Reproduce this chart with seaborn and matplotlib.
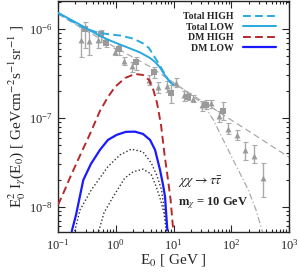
import matplotlib
matplotlib.use("Agg")
from matplotlib import pyplot as plt
from matplotlib.ticker import LogLocator, NullFormatter
import pandas as pd
import seaborn as sns

sns.set_style("ticks")
plt.rcParams["font.family"] = ["Liberation Serif", "DejaVu Serif"]
plt.rcParams["mathtext.fontset"] = "stix"

# measured points (triangles)
tri_e = [0.247, 0.344, 0.49, 0.96, 1.37, 1.91, 3.7, 5.4, 7.8, 11, 15.2, 22, 30.8, 44, 62, 89, 124, 173, 248, 351]
tri_f = [7.6e-7, 7.4e-7, 7.6e-7, 5.5e-7, 4.4e-7, 3.8e-7, 2.65e-7, 2.2e-7, 2.27e-7, 2.45e-7,
         1.8e-7, 1.65e-7, 1.38e-7, 1.47e-7, 1.04e-7, 7.55e-8, 6.5e-8, 4.3e-8, 3.77e-8, 2.1e-8]
tri_hi = [1.05e-6, 9.7e-7, 8.9e-7, 6.1e-7, 4.9e-7, 4.3e-7, 3.0e-7, 2.55e-7, 2.6e-7, 2.8e-7,
          2.0e-7, 1.8e-7, 1.55e-7, 1.6e-7, 1.2e-7, 8.7e-8, 7.4e-8, 5.4e-8, 5.0e-8, 3.1e-8]
tri_lo = [4.8e-7, 5.1e-7, 6.1e-7, 5.1e-7, 3.9e-7, 3.3e-7, 2.35e-7, 1.9e-7, 1.95e-7, 2.2e-7,
          1.55e-7, 1.5e-7, 1.2e-7, 1.3e-7, 9.1e-8, 6.6e-8, 5.7e-8, 3.4e-8, 3.1e-8, 1.3e-8]

# measured points (squares)
sq_e = [0.297, 0.548, 0.686, 1.12, 2.27, 4.6, 9.2, 18, 36.5, 73]
sq_f = [1.0e-6, 8.7e-7, 7.0e-7, 5.9e-7, 4.27e-7, 3.3e-7, 1.9e-7, 1.72e-7, 1.4e-7, 1.19e-7]
sq_hi = [1.21e-6, 9.7e-7, 7.65e-7, 6.6e-7, 4.9e-7, 3.77e-7, 2.35e-7, 1.9e-7, 1.6e-7, 1.52e-7]
sq_lo = [6.1e-7, 7.2e-7, 6.3e-7, 5.1e-7, 3.45e-7, 2.8e-7, 1.47e-7, 1.6e-7, 1.25e-7, 9.5e-8]

# background curves (gray)
bkg_e = [0.1, 0.24, 0.533, 1.18, 3.92, 13.9, 63.8, 211, 961, 1000]
bkg_f = [1.48e-6, 1.05e-6, 7.8e-7, 5.8e-7, 3.77e-7, 2.16e-7, 1.14e-7, 6.95e-8, 3.67e-8, 3.6e-8]
cut_e = [9.8, 13.9, 19.3, 28.8, 35, 48.9, 63.8, 108, 197, 268, 348]
cut_f = [2.43e-7, 2.16e-7, 1.84e-7, 1.52e-7, 1.34e-7, 9.5e-8, 6.7e-8, 3.37e-8, 1.55e-8, 9.2e-9, 5.2e-9]

# totals
tot_high_e = [0.1, 0.161, 0.24, 0.33, 0.49, 0.794, 1.18, 2.01, 3.0, 3.77, 4.47, 5.28, 6.2, 7.13, 8.1, 9.8]
tot_high_f = [1.52e-6, 1.26e-6, 1.09e-6, 9.9e-7, 9.1e-7, 8.7e-7, 8.45e-7, 7.8e-7, 6.87e-7, 6.1e-7,
              5.1e-7, 4.3e-7, 3.6e-7, 3.08e-7, 2.67e-7, 2.35e-7]
tot_low_e = [0.1, 0.161, 0.294, 0.533, 0.794, 1.18, 1.77, 2.63, 3.92, 4.79, 5.84, 7.13, 8.69, 9.9]
tot_low_f = [1.52e-6, 1.29e-6, 1.04e-6, 8.34e-7, 7.43e-7, 6.7e-7, 6.04e-7, 5.45e-7, 4.72e-7, 4.26e-7,
             3.69e-7, 3.0e-7, 2.54e-7, 2.35e-7]

# dark matter
dm_high_e = [0.1, 0.127, 0.161, 0.222, 0.358, 0.533, 0.734, 0.971, 1.45, 2.15, 2.96, 3.77, 4.47,
             5.18, 6.08, 7.0, 8.04, 8.9, 9.8]
dm_high_f = [1.05e-8, 1.48e-8, 2.12e-8, 3.37e-8, 6.6e-8, 1.2e-7, 1.72e-7, 2.23e-7, 2.81e-7, 3.12e-7,
             3.04e-7, 2.67e-7, 2.07e-7, 1.48e-7, 8.3e-8, 3.84e-8, 2.0e-8, 1.2e-8, 5.8e-9]
dm_low_e = [0.173, 0.205, 0.274, 0.372, 0.533, 0.734, 1.04, 1.5, 2.15, 2.96, 3.92, 4.79, 5.84,
            6.58, 7.13, 7.81]
dm_low_f = [5.3e-9, 8.1e-9, 2.0e-8, 3.04e-8, 4.37e-8, 5.66e-8, 6.45e-8, 6.97e-8, 7.0e-8, 6.6e-8,
            5.66e-8, 4.37e-8, 2.6e-8, 1.77e-8, 1.3e-8, 5.5e-9]
dot1_e = [0.195, 0.24, 0.378, 0.533, 0.734, 1.19, 1.86, 2.96, 4.13, 5.18, 6.2, 7.21, 7.71]
dot1_f = [5.3e-9, 9.2e-9, 1.55e-8, 2.12e-8, 2.84e-8, 3.84e-8, 4.45e-8, 4.15e-8, 3.1e-8, 2.23e-8,
          1.55e-8, 7.8e-9, 5.3e-9]
dot2_e = [0.507, 0.627, 0.84, 1.43, 1.99, 2.96, 4.07, 5.0, 5.96, 6.84, 7.5]
dot2_f = [5.3e-9, 8.6e-9, 1.2e-8, 2.1e-8, 2.47e-8, 2.65e-8, 2.35e-8, 1.69e-8, 1.2e-8, 8.5e-9, 5.3e-9]

fig = plt.figure(figsize=(2.99, 2.72), dpi=100)
ax = fig.add_axes([0.194, 0.147, 0.7726, 0.8475])

gray = "#9a9a9a"
for e, f, lo, hi, mk in [(tri_e, tri_f, tri_lo, tri_hi, "^"), (sq_e, sq_f, sq_lo, sq_hi, "s")]:
    df = pd.DataFrame({"e": e, "f": f, "lo": lo, "hi": hi})
    ax.errorbar(df["e"], df["f"], yerr=[df["f"] - df["lo"], df["hi"] - df["f"]],
                fmt="none", ecolor="#aaaaaa", elinewidth=1.0, capsize=1.8, capthick=0.8, zorder=2)
    sns.scatterplot(data=df, x="e", y="f", marker=mk, s=18, color=gray, edgecolor=gray,
                    linewidth=0, ax=ax, zorder=3)

sns.lineplot(x=bkg_e, y=bkg_f, color="#aaaaaa", lw=0.9, linestyle=(0, (5, 3)), ax=ax, zorder=1)
sns.lineplot(x=cut_e, y=cut_f, color="#aaaaaa", lw=0.9, linestyle=(0, (5, 2, 1, 2)), ax=ax, zorder=1)
sns.lineplot(x=dot1_e, y=dot1_f, color="#333333", lw=1.0, linestyle=(0, (1, 1.6)), ax=ax)
sns.lineplot(x=dot2_e, y=dot2_f, color="#333333", lw=1.0, linestyle=(0, (1, 1.6)), ax=ax)

sns.lineplot(x=tot_high_e, y=tot_high_f, color="#2aa8e0", lw=1.4, linestyle=(0, (4, 2.2)),
             label="Total HIGH", ax=ax, zorder=4)
sns.lineplot(x=tot_low_e, y=tot_low_f, color="#2aa8e0", lw=1.4, label="Total LOW", ax=ax, zorder=4)
sns.lineplot(x=dm_high_e, y=dm_high_f, color="#b52a2a", lw=1.4, linestyle=(0, (4, 2.2)),
             label="DM HIGH", ax=ax, zorder=4)
sns.lineplot(x=dm_low_e, y=dm_low_f, color="#1a1aff", lw=1.6, label="DM LOW", ax=ax, zorder=4)

ax.set_xscale("log")
ax.set_yscale("log")
ax.set_xlim(0.1, 1000)
ax.set_ylim(5.2e-9, 2.04e-6)

for axis in (ax.xaxis, ax.yaxis):
    axis.set_major_locator(LogLocator(base=10, numticks=10))
    axis.set_minor_locator(LogLocator(base=10, subs=range(2, 10), numticks=20))
    axis.set_minor_formatter(NullFormatter())
ax.tick_params(which="both", direction="in", top=True, right=True, labelsize=9, width=0.8)
ax.tick_params(which="major", length=5)
ax.tick_params(which="minor", length=2.5)
ax.tick_params(axis="x", pad=4)
for s in ax.spines.values():
    s.set_linewidth(1.0)

ax.set_xlabel(r"E$_0$ [ GeV ]", fontsize=11, labelpad=0)
ax.set_ylabel(r"E$_0^2$ I$_\gamma$(E$_0$) [ GeVcm$^{-2}$s$^{-1}$sr$^{-1}$ ]", fontsize=11, labelpad=1)

ax.legend(loc="upper right", bbox_to_anchor=(0.944, 0.953), markerfirst=False, frameon=False,
          prop={"size": 7, "weight": "bold"}, handlelength=3.4, handletextpad=1.0,
          labelspacing=0.15, borderpad=0, borderaxespad=0)

ax.text(0.519, 0.217, r"$\chi\chi\rightarrow\tau\bar{\tau}$", transform=ax.transAxes,
        fontsize=10, va="center", ha="left")
ax.text(0.519, 0.126, r"$\mathbf{m}_{\chi}$ = 10 GeV", transform=ax.transAxes,
        fontsize=9, fontweight="bold", va="center", ha="left")

plt.savefig("out.png", dpi=100)
plt.close()
